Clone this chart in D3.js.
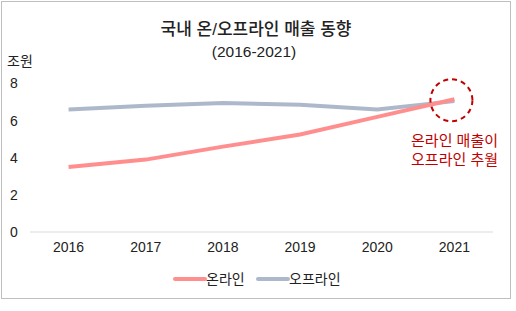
<!DOCTYPE html>
<html>
<head>
<meta charset="utf-8">
<script src="https://cdn.jsdelivr.net/npm/d3@7"></script>
<style>
  body { margin: 0; background: #fff; }
  svg text { font-family: "Liberation Sans", "Noto Sans CJK KR", sans-serif; }
</style>
</head>
<body>
<svg id="chart"></svg>
<script>
const width = 516;
const height = 311;

// values (조원)
const years = ["2016", "2017", "2018", "2019", "2020", "2021"];
const online = [3.5, 3.9, 4.6, 5.25, 6.2, 7.15];
const offline = [6.6, 6.8, 6.95, 6.85, 6.6, 7.05];
const yTicks = [0, 2, 4, 6, 8];
const seriesNames = ["온라인", "오프라인"];
const colors = ["#ff8f8f", "#adb9ca"];

const svg = d3.select("#chart")
    .attr("width", width)
    .attr("height", height);

// outer frame
svg.append("rect")
    .attr("x", 1.5).attr("y", 1.5)
    .attr("width", 509).attr("height", 297)
    .attr("fill", "#fff")
    .attr("stroke", "#bfbfbf");

const x = d3.scaleBand().domain(years).range([30, 493]);
const y = d3.scaleLinear().domain([0, 8]).range([232, 83.5]);

// title
svg.append("text")
    .attr("x", 256).attr("y", 35)
    .attr("text-anchor", "middle")
    .attr("font-size", 17)
    .attr("font-weight", 500)
    .attr("fill", "#222")
    .text("국내 온/오프라인 매출 동향");

svg.append("text")
    .attr("x", 254).attr("y", 57)
    .attr("text-anchor", "middle")
    .attr("font-size", 15.5)
    .attr("fill", "#222")
    .text("(2016-2021)");

svg.append("text")
    .attr("x", 7).attr("y", 66)
    .attr("font-size", 14)
    .attr("fill", "#222")
    .text("조원");

// y axis labels (no line)
const yAxis = svg.append("g")
    .attr("transform", "translate(20,0)")
    .call(d3.axisLeft(y).tickValues(yTicks).tickSize(0).tickPadding(0));
yAxis.select(".domain").remove();
yAxis.selectAll("text")
    .attr("text-anchor", "middle")
    .attr("x", -6)
    .attr("font-size", 14)
    .attr("fill", "#222");

// baseline
svg.append("line")
    .attr("x1", 30).attr("x2", 493)
    .attr("y1", y(0)).attr("y2", y(0))
    .attr("stroke", "#d9d9d9");

// x axis labels
const xAxis = svg.append("g")
    .attr("transform", `translate(0,${y(0)})`)
    .call(d3.axisBottom(x).tickSize(0).tickPadding(10));
xAxis.select(".domain").remove();
xAxis.selectAll("text")
    .attr("font-size", 14)
    .attr("fill", "#222");

// lines
const line = d3.line()
    .x((d, i) => x(years[i]) + x.bandwidth() / 2)
    .y(d => y(d));

[offline, online].forEach((vals, k) => {
    svg.append("path")
        .datum(vals)
        .attr("d", line)
        .attr("fill", "none")
        .attr("stroke", k === 0 ? colors[1] : colors[0])
        .attr("stroke-width", 4);
});

// annotation circle
svg.append("circle")
    .attr("cx", x("2021") + x.bandwidth() / 2 - 3)
    .attr("cy", y(7.1))
    .attr("r", 21)
    .attr("fill", "none")
    .attr("stroke", "#c00000")
    .attr("stroke-width", 2)
    .attr("stroke-dasharray", "5,4");

const note = svg.append("text")
    .attr("text-anchor", "end")
    .attr("font-size", 15)
    .attr("fill", "#c00000");
note.append("tspan").attr("x", 498).attr("y", 146).text("온라인 매출이");
note.append("tspan").attr("x", 498).attr("y", 165).text("오프라인 추월");

// legend
const legend = svg.append("g");
const legendX = [175, 258];
seriesNames.forEach((name, i) => {
    legend.append("line")
        .attr("x1", legendX[i]).attr("x2", legendX[i] + 30)
        .attr("y1", 279).attr("y2", 279)
        .attr("stroke", colors[i])
        .attr("stroke-width", 4)
        .attr("stroke-linecap", "round");
    legend.append("text")
        .attr("x", legendX[i] + 31).attr("y", 284)
        .attr("font-size", 14)
        .attr("fill", "#222")
        .text(name);
});
</script>
</body>
</html>
